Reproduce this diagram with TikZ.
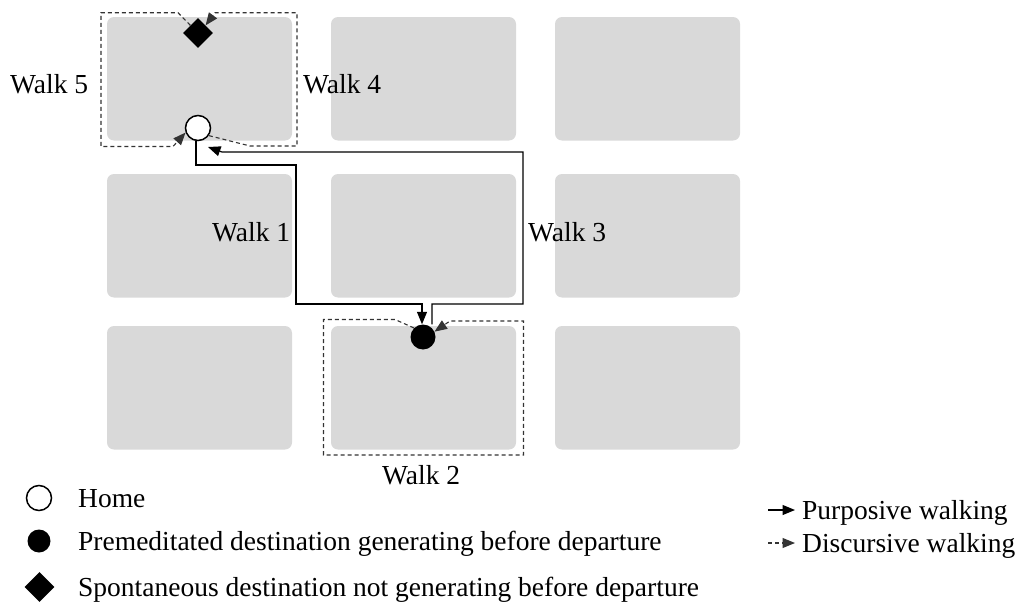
\documentclass[tikz,border=0pt]{standalone}
\usepackage{fontspec}
\setmainfont{Liberation Serif}
\usetikzlibrary{arrows.meta,shapes.geometric,calc}
\definecolor{block}{HTML}{D9D9D9}
\definecolor{dashgray}{HTML}{333333}

\begin{document}
\begin{tikzpicture}[x=1pt,y=-1pt,
  blk/.style={fill=block, rounded corners=7pt},
  homept/.style={circle, draw=black, fill=white, line width=1.5pt, minimum size=25pt, inner sep=0pt},
  destpt/.style={circle, fill=black, minimum size=25pt, inner sep=0pt},
  spontpt/.style={diamond, fill=black, minimum size=30pt, inner sep=0pt},
  lbl/.style={font=\fontsize{27.5}{32}\selectfont, inner sep=0pt},
  purp/.style={line width=1.2pt, -{Triangle[length=12.5pt,width=10pt]}},
  disc/.style={line width=1.1pt, dashgray, dash pattern=on 4pt off 3pt, -{Triangle[length=12.5pt,width=10pt]}},
]
\useasboundingbox (0,0) rectangle (1021,605);

% city blocks
\foreach \x in {107,331,555}
  \foreach \y in {17,174,326}
    \fill[blk] (\x,\y) rectangle ++(185,123.5);

% places
\node[spontpt] (D) at (198,33) {};
\node[homept] (H) at (198,128) {};
\node[destpt] (P) at (423,337) {};

% Walk 1: home to premeditated destination
\coordinate (w1a) at (196,165);
\coordinate (w1b) at (296,165);
\coordinate (w1c) at (296,304);
\coordinate (w1d) at (422,304);
\draw[purp] (H.south -| w1a) -- (w1a) -- (w1b) -- (w1c) -- (w1d) -- (w1d |- P.north);

% Walk 3: premeditated destination back home
\coordinate (w3a) at (432,304);
\coordinate (w3b) at (523,304);
\coordinate (w3c) at (523,152);
\coordinate (w3d) at (222,152);
\draw[purp] (P.north -| w3a) -- (w3a) -- (w3b) -- (w3c) -- (w3d) -- ($(H)+(10,19)$);

% Walk 5 and Walk 4: loops between home and the spontaneous stop
\draw[disc] (D.north west) -- (178,12.7) -- (101,12.7) -- (101,146.5) -- (173,146.5) -- (H.200);
\draw[disc] (H.-35) -- (250,146) -- (297,146) -- (297,12.7) -- (215,12.7) -- (D.north east);

% Walk 2: loop round the block of the destination
\draw[disc] (P.135) -- (395,319.5) -- (323.5,319.5) -- (323.5,455) -- (523.5,455) -- (523.5,321) -- (450,321) -- (P.25);

% walk labels
\node[lbl, anchor=base west] (l5) at (10,93) {Walk 5};
\node[lbl, anchor=base west] (l4) at (303,93) {Walk 4};
\node[lbl, anchor=base west] (l1) at (212,241) {Walk 1};
\node[lbl, anchor=base west] (l3) at (528,241) {Walk 3};
\node[lbl, anchor=base west] (l2) at (382,484) {Walk 2};

% key: places
\node[homept] (kH) at (39,498) {};
\node[destpt, minimum size=23pt] (kP) at (39,541) {};
\node[spontpt] (kD) at (39.5,587) {};
\node[lbl, anchor=base west] (tH) at (78,507.5) {Home};
\node[lbl, anchor=base west] (tP) at (78,550.5) {Premeditated destination generating before departure};
\node[lbl, anchor=base west] (tD) at (78,596) {Spontaneous destination not generating before departure};

% key: walking modes
\coordinate (ka1) at (768,510);
\coordinate (kb1) at (795,510);
\coordinate (ka2) at (768,543);
\coordinate (kb2) at (795,543);
\draw[purp] (ka1) -- (kb1);
\draw[disc] (ka2) -- (kb2);
\node[lbl, anchor=base west] (tPW) at (802,519) {Purposive walking};
\node[lbl, anchor=base west] (tDW) at (802,552) {Discursive walking};
\end{tikzpicture}
\end{document}
